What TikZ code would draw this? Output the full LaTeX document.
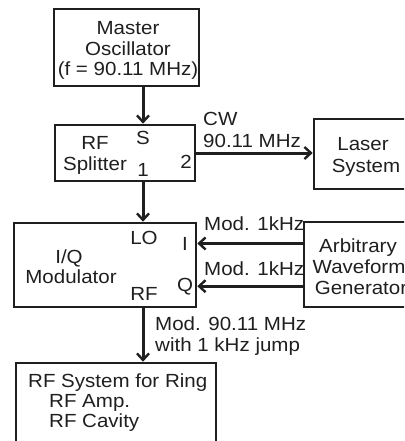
\documentclass[tikz,border=0pt]{standalone}
\usepackage{fontspec}
\setmainfont{Liberation Sans}[FakeStretch=1.08]
\usetikzlibrary{arrows.meta}
\begin{document}
\begin{tikzpicture}[x=1pt,y=-1pt,
  box/.style={draw=black!88, line width=2.6pt, inner sep=0pt},
  lbl/.style={font=\fontsize{19}{21}\selectfont, text=black!88, inner sep=0pt},
  arr/.style={line width=3pt, draw=black!88, -{Straight Barb[length=6.5pt,width=12pt,line width=2.4pt]}}
]
\useasboundingbox (0,0) rectangle (404,441);
\clip (0,0) rectangle (404,441);
% boxes
\node[box, minimum width=145pt, minimum height=77pt] (mo) at (126.5,47.5) {};
\node[box, minimum width=140pt, minimum height=56pt] (sp) at (125,153) {};
\node[box, minimum width=98pt, minimum height=70pt] (ls) at (363,154) {};
\node[box, minimum width=182pt, minimum height=84pt] (iq) at (105,265) {};
\node[box, minimum width=108pt, minimum height=85pt] (aw) at (358,264.5) {};
\node[box, minimum width=200pt, minimum height=87pt] (rf) at (116,406.5) {};
% master oscillator
\node[lbl, anchor=base] (mo1) at (128,35) {Master};
\node[lbl, anchor=base] (mo2) at (128,56) {Oscillator};
\node[lbl, anchor=base] (mo3) at (128,76) {(f = 90.11 MHz)};
% splitter
\node[lbl, anchor=base] (sp1) at (95,149) {RF};
\node[lbl, anchor=base] (sp2) at (95,170) {Splitter};
\node[lbl, anchor=base] (s) at (143,144) {S};
\node[lbl, anchor=base] (p2) at (186,168) {2};
\node[lbl, anchor=base] (p1) at (143,176) {1};
% laser
\node[lbl, anchor=base] (ls1) at (363,150) {Laser};
\node[lbl, anchor=base] (ls2) at (366,172) {System};
% IQ
\node[lbl, anchor=base] (iq1) at (69,263) {I/Q};
\node[lbl, anchor=base] (iq2) at (71,283) {Modulator};
\node[lbl, anchor=base] (lo) at (144,244) {LO};
\node[lbl, anchor=base] (i) at (185,250) {I};
\node[lbl, anchor=base] (q) at (185,291) {Q};
\node[lbl, anchor=base] (rfo) at (144,300) {RF};
% AWG
\node[lbl, anchor=base] (aw1) at (358,252) {Arbitrary};
\node[lbl, anchor=base] (aw2) at (359,273) {Waveform};
\node[lbl, anchor=base] (aw3) at (361,294) {Generator};
% RF ring
\node[lbl, anchor=base west] (rf1) at (28,387) {RF System for Ring};
\node[lbl, anchor=base west] (rf2) at (49,407) {RF Amp.};
\node[lbl, anchor=base west] (rf3) at (49,427) {RF Cavity};
% connector labels
\node[lbl, anchor=base west] (cw1) at (203,125) {CW};
\node[lbl, anchor=base west] (cw2) at (203,147) {90.11 MHz};
\node[lbl, anchor=base west] (m1) at (204,230) {Mod. 1kHz};
\node[lbl, anchor=base west] (m2) at (204,275) {Mod. 1kHz};
\node[lbl, anchor=base west] (mr1) at (155,330) {Mod. 90.11 MHz};
\node[lbl, anchor=base west] (mr2) at (155,351) {with 1 kHz jump};
% connectors
\draw[arr] (mo.south -| s) -- (sp.north -| s);
\draw[arr] (sp.south -| s) -- (iq.north -| s);
\draw[arr] (sp.east) -- (sp.east -| ls.west);
\draw[arr] (aw.west |- i.center) -- (iq.east |- i.center);
\draw[arr] (aw.west |- q.center) -- (iq.east |- q.center);
\draw[arr] (iq.south -| s) -- (rf.north -| s);
\end{tikzpicture}
\end{document}
